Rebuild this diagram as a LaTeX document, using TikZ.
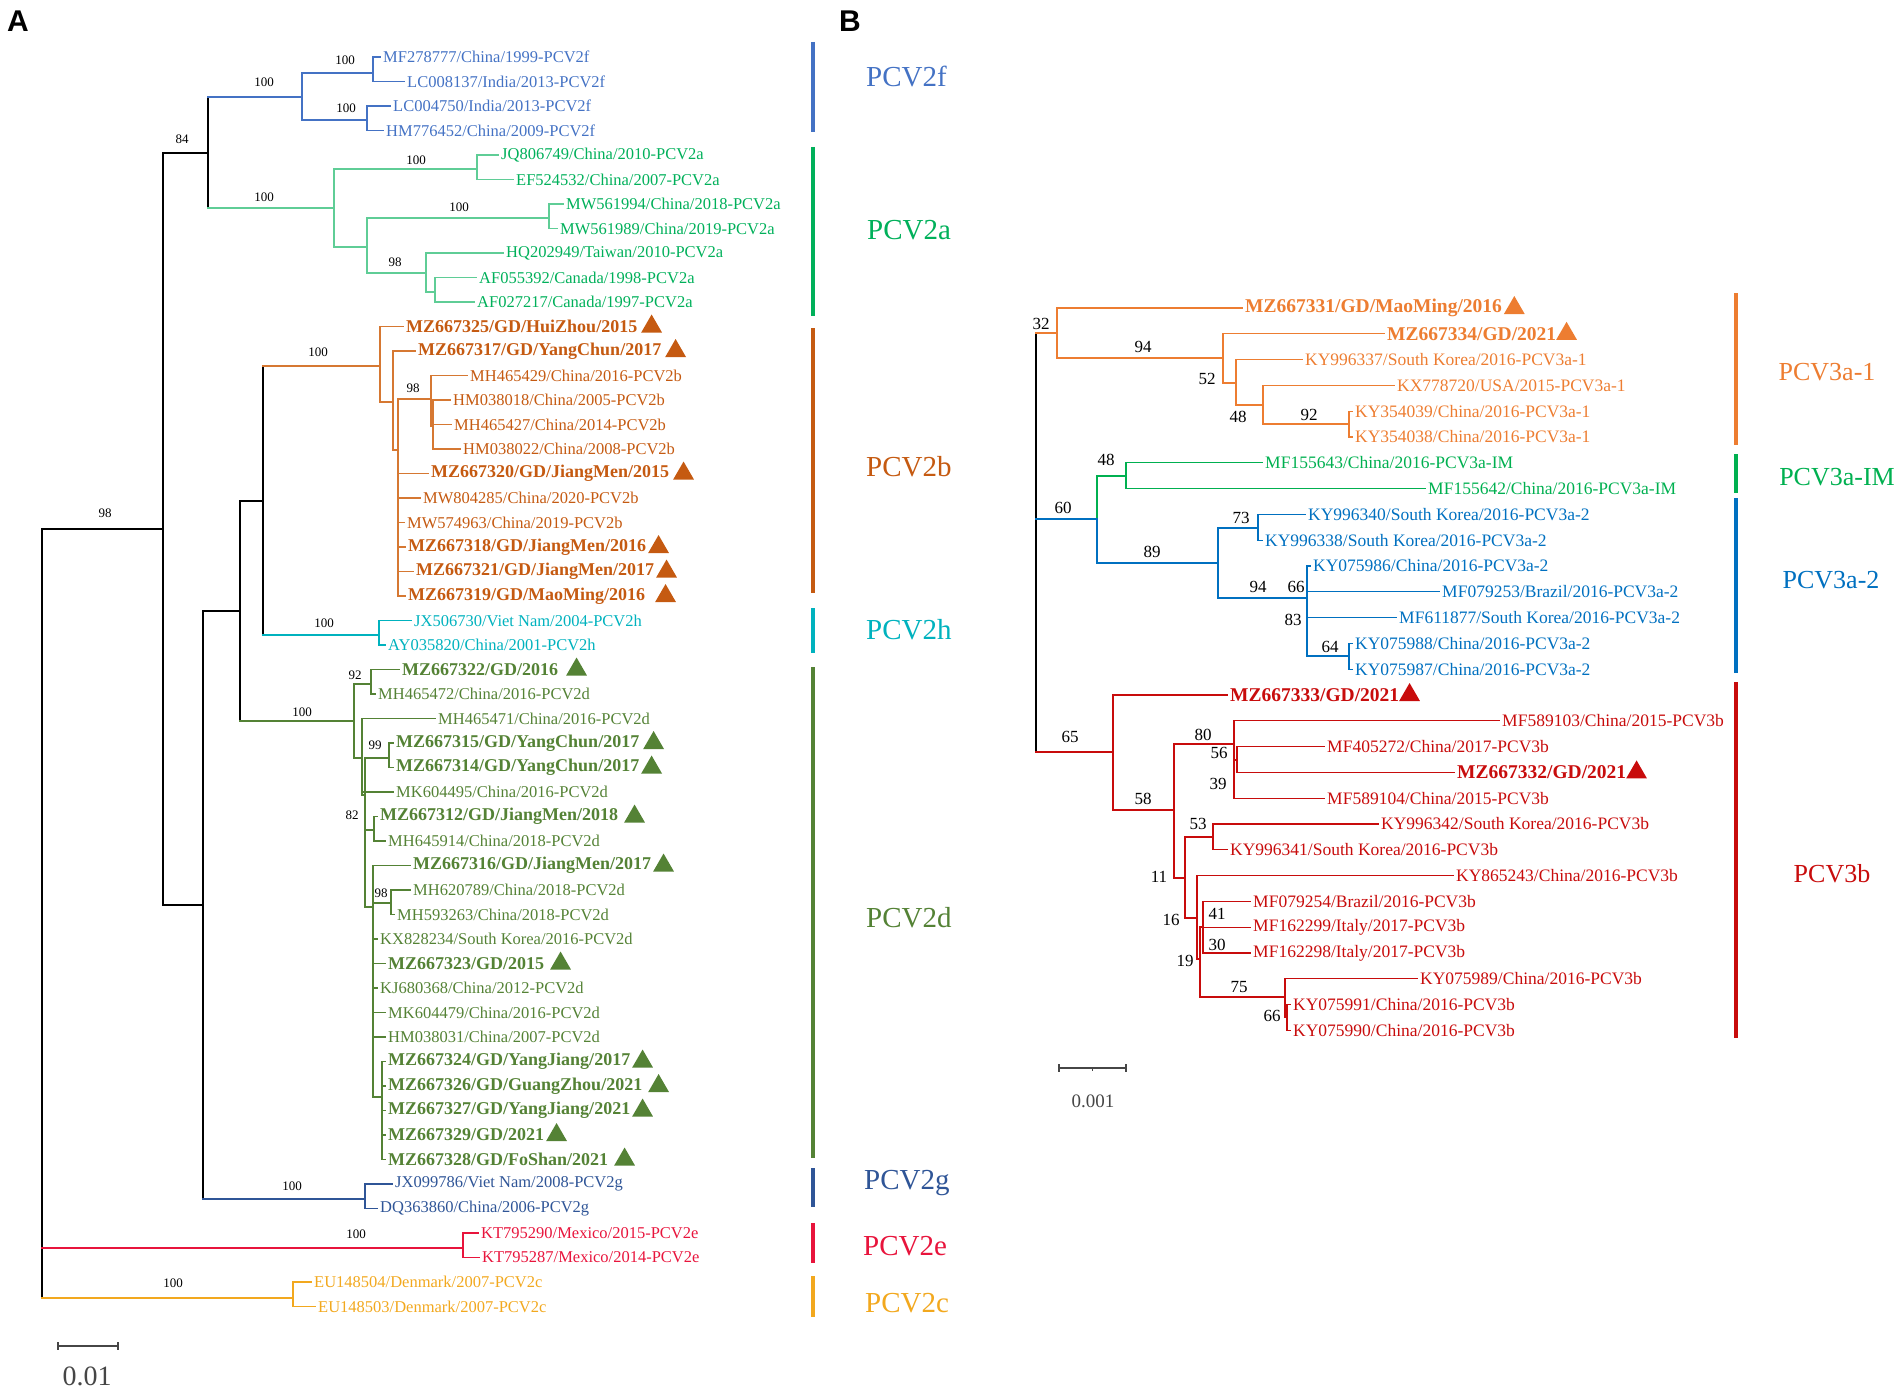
\documentclass[tikz,border=0pt]{standalone}
\usepackage{fontspec}
\setmainfont{Liberation Serif}
\newfontfamily\panelsans{Liberation Sans}
\usetikzlibrary{positioning,shapes.geometric}
\definecolor{cf}{RGB}{68,114,196}
\definecolor{ca}{RGB}{0,176,90}
\definecolor{caL}{RGB}{95,205,150}
\definecolor{cb}{RGB}{197,90,17}
\definecolor{cbL}{RGB}{214,120,50}
\definecolor{ch}{RGB}{0,178,190}
\definecolor{cd}{RGB}{84,130,53}
\definecolor{cg}{RGB}{47,85,151}
\definecolor{ce}{RGB}{232,20,60}
\definecolor{cc}{RGB}{242,168,30}
\definecolor{vOne}{RGB}{237,125,49}
\definecolor{vIm}{RGB}{0,176,80}
\definecolor{vTwo}{RGB}{0,112,192}
\definecolor{vB}{RGB}{200,12,12}
\definecolor{scalegray}{RGB}{70,70,70}
\begin{document}
\begin{tikzpicture}[x=1pt, y=-1pt,
                    br/.style={line width=1.3pt, line cap=rect},
                    leaf/.style={anchor=west, inner xsep=3pt, inner ysep=0pt, font=\fontsize{16.5}{18}\selectfont},
                    bold leaf/.style={leaf, font=\fontsize{18}{20}\selectfont\bfseries},
                    leafb/.style={leaf, font=\fontsize{17.5}{19}\selectfont},
                    bold leafb/.style={leaf, font=\fontsize{19.5}{21}\selectfont\bfseries},
                    boot/.style={inner sep=0pt, font=\fontsize{13}{14}\selectfont},
                    bootb/.style={inner sep=0pt, font=\fontsize{17}{18}\selectfont},
                    tri/.style={regular polygon, regular polygon sides=3, fill, inner sep=0pt, minimum size=24pt},
                    bar/.style={line width=4.5pt},
                    grp/.style={anchor=west, inner sep=0pt, font=\fontsize{29}{31}\selectfont},
                    grpb/.style={inner sep=0pt, font=\fontsize{26}{28}\selectfont},
                    panel/.style={inner sep=0pt, font=\panelsans\bfseries\fontsize{30}{32}\selectfont},
                    scalebar/.style={line width=2.5pt, draw=scalegray},
                ]
\useasboundingbox (0,0) rectangle (1902,1391);

\node[panel] (pA) at (18,21) {A};
\node[panel] (pB) at (850,21) {B};

% ---- panel A: PCV2 tree
\node[leaf, cf] (la0) at (380,57) {MF278777/China/1999-PCV2f};
\node[leaf, cf] (la1) at (404,81.5) {LC008137/India/2013-PCV2f};
\node[leaf, cf] (la2) at (390,106) {LC004750/India/2013-PCV2f};
\node[leaf, cf] (la3) at (383,130.5) {HM776452/China/2009-PCV2f};
\node[leaf, ca] (la4) at (498,155) {JQ806749/China/2010-PCV2a};
\node[leaf, ca] (la5) at (513,179.5) {EF524532/China/2007-PCV2a};
\node[leaf, ca] (la6) at (563,204) {MW561994/China/2018-PCV2a};
\node[leaf, ca] (la7) at (557,228.5) {MW561989/China/2019-PCV2a};
\node[leaf, ca] (la8) at (503,253) {HQ202949/Taiwan/2010-PCV2a};
\node[leaf, ca] (la9) at (476,277.5) {AF055392/Canada/1998-PCV2a};
\node[leaf, ca] (la10) at (474,302) {AF027217/Canada/1997-PCV2a};
\node[bold leaf, cb] (la11) at (403,326.5) {MZ667325/GD/HuiZhou/2015};
\node[bold leaf, cb] (la12) at (415,351) {MZ667317/GD/YangChun/2017};
\node[leaf, cb] (la13) at (467,375.5) {MH465429/China/2016-PCV2b};
\node[leaf, cb] (la14) at (450,400) {HM038018/China/2005-PCV2b};
\node[leaf, cb] (la15) at (451,424.5) {MH465427/China/2014-PCV2b};
\node[leaf, cb] (la16) at (460,449) {HM038022/China/2008-PCV2b};
\node[bold leaf, cb] (la17) at (428,473.5) {MZ667320/GD/JiangMen/2015};
\node[leaf, cb] (la18) at (420,498) {MW804285/China/2020-PCV2b};
\node[leaf, cb] (la19) at (404,522.5) {MW574963/China/2019-PCV2b};
\node[bold leaf, cb] (la20) at (405,547) {MZ667318/GD/JiangMen/2016};
\node[bold leaf, cb] (la21) at (413,571.5) {MZ667321/GD/JiangMen/2017};
\node[bold leaf, cb] (la22) at (405,596) {MZ667319/GD/MaoMing/2016};
\node[leaf, ch] (la23) at (411,620.5) {JX506730/Viet Nam/2004-PCV2h};
\node[leaf, ch] (la24) at (385,645) {AY035820/China/2001-PCV2h};
\node[bold leaf, cd] (la25) at (399,669.5) {MZ667322/GD/2016};
\node[leaf, cd] (la26) at (375,694) {MH465472/China/2016-PCV2d};
\node[leaf, cd] (la27) at (435,718.5) {MH465471/China/2016-PCV2d};
\node[bold leaf, cd] (la28) at (393,743) {MZ667315/GD/YangChun/2017};
\node[bold leaf, cd] (la29) at (393,767.5) {MZ667314/GD/YangChun/2017};
\node[leaf, cd] (la30) at (393,792) {MK604495/China/2016-PCV2d};
\node[bold leaf, cd] (la31) at (377,816.5) {MZ667312/GD/JiangMen/2018};
\node[leaf, cd] (la32) at (385,841) {MH645914/China/2018-PCV2d};
\node[bold leaf, cd] (la33) at (410,865.5) {MZ667316/GD/JiangMen/2017};
\node[leaf, cd] (la34) at (410,890) {MH620789/China/2018-PCV2d};
\node[leaf, cd] (la35) at (394,914.5) {MH593263/China/2018-PCV2d};
\node[leaf, cd] (la36) at (377,939) {KX828234/South Korea/2016-PCV2d};
\node[bold leaf, cd] (la37) at (385,963.5) {MZ667323/GD/2015};
\node[leaf, cd] (la38) at (377,988) {KJ680368/China/2012-PCV2d};
\node[leaf, cd] (la39) at (385,1012.5) {MK604479/China/2016-PCV2d};
\node[leaf, cd] (la40) at (385,1037) {HM038031/China/2007-PCV2d};
\node[bold leaf, cd] (la41) at (385,1061.5) {MZ667324/GD/YangJiang/2017};
\node[bold leaf, cd] (la42) at (385,1086) {MZ667326/GD/GuangZhou/2021};
\node[bold leaf, cd] (la43) at (385,1110.5) {MZ667327/GD/YangJiang/2021};
\node[bold leaf, cd] (la44) at (385,1135) {MZ667329/GD/2021};
\node[bold leaf, cd] (la45) at (385,1159.5) {MZ667328/GD/FoShan/2021};
\node[leaf, cg] (la46) at (392,1184) {JX099786/Viet Nam/2008-PCV2g};
\node[leaf, cg] (la47) at (377,1208.5) {DQ363860/China/2006-PCV2g};
\node[leaf, ce] (la48) at (478,1233) {KT795290/Mexico/2015-PCV2e};
\node[leaf, ce] (la49) at (479,1257.5) {KT795287/Mexico/2014-PCV2e};
\node[leaf, cc] (la50) at (311,1282) {EU148504/Denmark/2007-PCV2c};
\node[leaf, cc] (la51) at (315,1306.5) {EU148503/Denmark/2007-PCV2c};

\node[tri, cb, right=4pt of la11] (ta11) {};
\node[tri, cb, right=4pt of la12] (ta12) {};
\node[tri, cb, right=4pt of la17] (ta17) {};
\node[tri, cb, right=2pt of la20] (ta20) {};
\node[tri, cb, right=2pt of la21] (ta21) {};
\node[tri, cb, right=10pt of la22] (ta22) {};
\node[tri, cd, right=8pt of la25] (ta25) {};
\node[tri, cd, right=4pt of la28] (ta28) {};
\node[tri, cd, right=2pt of la29] (ta29) {};
\node[tri, cd, right=6pt of la31] (ta31) {};
\node[tri, cd, right=2pt of la33] (ta33) {};
\node[tri, cd, right=6pt of la37] (ta37) {};
\node[tri, cd, right=2pt of la41] (ta41) {};
\node[tri, cd, right=6pt of la42] (ta42) {};
\node[tri, cd, right=2pt of la43] (ta43) {};
\node[tri, cd, right=2pt of la44] (ta44) {};
\node[tri, cd, right=6pt of la45] (ta45) {};

\coordinate (rA) at (42,529);
\coordinate (nfab) at (163,529);
\coordinate (nfa) at (208,153);
\coordinate (nbhdg) at (203,905);
\coordinate (nbhd) at (240,611);
\coordinate (nbh) at (263,501);
\coordinate (nf) at (302,97);
\coordinate (nf1) at (373,73);
\coordinate (nf2) at (367,120);
\coordinate (na) at (334,208);
\coordinate (na1) at (477,169);
\coordinate (na3) at (367,247);
\coordinate (na2) at (549,218);
\coordinate (na4) at (426,273);
\coordinate (na5) at (435,292);
\coordinate (nb0) at (380,366);
\coordinate (nb1) at (393,402);
\coordinate (nb2) at (398,450);
\coordinate (nb98) at (431,399);
\coordinate (nb3) at (433,426);
\coordinate (nh) at (379,635);
\coordinate (nd) at (354,721);
\coordinate (nd92) at (371,684);
\coordinate (ndb) at (362,758);
\coordinate (ndc) at (365,795);
\coordinate (nd99) at (389,758);
\coordinate (nd82) at (374,830);
\coordinate (nde) at (373,907);
\coordinate (nd98) at (391,903);
\coordinate (ndf) at (382,1097);
\coordinate (ng) at (365,1199);
\coordinate (ne) at (463,1248);
\coordinate (nc) at (293,1298);

% backbone
\draw[br] (rA) -- (rA |- nc);
\draw[br] (rA) -- (nfab);
\draw[br, ce] (rA |- ne) -- (ne);
\draw[br, cc] (rA |- nc) -- (nc);
\draw[br] (nfab) |- (nfa) (nfab) |- (nbhdg);
\draw[br] (nfa |- nf) -- (nfa |- na);
\draw[br, cf] (nfa |- nf) -- (nf);
\draw[br, caL] (nfa |- na) -- (na);
\draw[br] (nbhdg) |- (nbhd);
\draw[br] (nbhdg) -- (nbhdg |- ng);
\draw[br, cg] (nbhdg |- ng) -- (ng);
\draw[br] (nbhd) |- (nbh);
\draw[br] (nbhd) -- (nbhd |- nd);
\draw[br, cd] (nbhd |- nd) -- (nd);
\draw[br] (nbh |- nb0) -- (nbh |- nh);
\draw[br, cbL] (nbh |- nb0) -- (nb0);
\draw[br, ch] (nbh |- nh) -- (nh);

% clades
\draw[br, cf] (nf) |- (nf1) (nf) |- (nf2)
    (nf1) |- (la0) (nf1) |- (la1) (nf2) |- (la2) (nf2) |- (la3);
\draw[br, caL] (na) |- (na1) (na) |- (na3) (na1) |- (la4) (na1) |- (la5)
    (na3) |- (na2) (na3) |- (na4) (na2) |- (la6) (na2) |- (la7)
    (na4) |- (la8) (na4) |- (na5) (na5) |- (la9) (na5) |- (la10);
\draw[br, cbL] (nb0) |- (la11) (nb0) |- (nb1) (nb1) |- (la12) (nb1) |- (nb2)
    (nb2) |- (nb98) (nb98) |- (la13) (nb98) |- (nb3)
    (nb3) |- (la14) (nb3) |- (la15) (nb3) |- (la16)
    (nb2) |- (la17) (nb2) |- (la18) (nb2) |- (la19)
    (nb2) |- (la20) (nb2) |- (la21) (nb2) |- (la22);
\draw[br, ch] (nh) |- (la23) (nh) |- (la24);
\draw[br, cd] (nd) |- (nd92) (nd) |- (ndb) (nd92) |- (la25) (nd92) |- (la26)
    (ndb) |- (la27) (ndb) |- (ndc) (ndb) |- (la30)
    (ndc) |- (nd99) (ndc) |- (nd82) (ndc) |- (nde)
    (nd99) |- (la28) (nd99) |- (la29) (nd82) |- (la31) (nd82) |- (la32)
    (nde) |- (la33) (nde) |- (nd98) (nd98) |- (la34) (nd98) |- (la35)
    (nde) |- (la36) (nde) |- (la37) (nde) |- (la38) (nde) |- (la39)
    (nde) |- (la40) (nde) |- (ndf)
    (ndf) |- (la41) (ndf) |- (la42) (ndf) |- (la43) (ndf) |- (la44) (ndf) |- (la45);
\draw[br, cg] (ng) |- (la46) (ng) |- (la47);
\draw[br, ce] (ne) |- (la48) (ne) |- (la49);
\draw[br, cc] (nc) |- (la50) (nc) |- (la51);

% bootstrap values
\node[boot] (sa1) at (345,60) {100};
\node[boot] (sa2) at (346,108) {100};
\node[boot] (sa3) at (264,82) {100};
\node[boot] (sa4) at (182,139) {84};
\node[boot] (sa5) at (416,160) {100};
\node[boot] (sa6) at (459,207) {100};
\node[boot] (sa7) at (395,262) {98};
\node[boot] (sa8) at (264,197) {100};
\node[boot] (sa9) at (318,352) {100};
\node[boot] (sa10) at (413,388) {98};
\node[boot] (sa11) at (105,513) {98};
\node[boot] (sa12) at (324,623) {100};
\node[boot] (sa13) at (302,712) {100};
\node[boot] (sa14) at (355,675) {92};
\node[boot] (sa15) at (375,745) {99};
\node[boot] (sa16) at (352,815) {82};
\node[boot] (sa17) at (381,893) {98};
\node[boot] (sa18) at (292,1186) {100};
\node[boot] (sa19) at (356,1234) {100};
\node[boot] (sa20) at (173,1283) {100};

% genotype bars
\draw[bar, cf] (813,42) -- (813,132);
\draw[bar, ca] (813,147) -- (813,316);
\draw[bar, cb] (813,328) -- (813,593);
\draw[bar, ch] (813,608) -- (813,653);
\draw[bar, cd] (813,667) -- (813,1158);
\draw[bar, cg] (813,1168) -- (813,1207);
\draw[bar, ce] (813,1223) -- (813,1263);
\draw[bar, cc] (813,1276) -- (813,1317);
\node[grp, cf] (gf) at (866,77) {PCV2f};
\node[grp, ca] (ga) at (867,230) {PCV2a};
\node[grp, cb] (gb) at (866,467) {PCV2b};
\node[grp, ch] (gh) at (866,630) {PCV2h};
\node[grp, cd] (gd) at (866,918) {PCV2d};
\node[grp, cg] (gg) at (864,1183) {PCV2g};
\node[grp, ce] (ge) at (863,1246) {PCV2e};
\node[grp, cc] (gc) at (865,1303) {PCV2c};

% scale A
\coordinate (sca0) at (58,1346);
\coordinate (sca1) at (118,1346);
\draw[scalebar] (sca0) -- (sca1) (sca0) ++(0,-4) -- ++(0,8) (sca1) ++(0,-4) -- ++(0,8);
\node[inner sep=0pt, font=\fontsize{28}{30}\selectfont, text=scalegray] (sclA) at (87,1376) {0.01};

% ---- panel B: PCV3 tree
\node[bold leafb, vOne] (lb0) at (1242,308) {MZ667331/GD/MaoMing/2016};
\node[bold leafb, vOne] (lb1) at (1384,333.8) {MZ667334/GD/2021};
\node[leafb, vOne] (lb2) at (1302,359.6) {KY996337/South Korea/2016-PCV3a-1};
\node[leafb, vOne] (lb3) at (1394,385.4) {KX778720/USA/2015-PCV3a-1};
\node[leafb, vOne] (lb4) at (1352,411.2) {KY354039/China/2016-PCV3a-1};
\node[leafb, vOne] (lb5) at (1352,437) {KY354038/China/2016-PCV3a-1};
\node[leafb, vIm] (lb6) at (1262,462.8) {MF155643/China/2016-PCV3a-IM};
\node[leafb, vIm] (lb7) at (1425,488.6) {MF155642/China/2016-PCV3a-IM};
\node[leafb, vTwo] (lb8) at (1305,514.4) {KY996340/South Korea/2016-PCV3a-2};
\node[leafb, vTwo] (lb9) at (1262,540.2) {KY996338/South Korea/2016-PCV3a-2};
\node[leafb, vTwo] (lb10) at (1310,566) {KY075986/China/2016-PCV3a-2};
\node[leafb, vTwo] (lb11) at (1439,591.8) {MF079253/Brazil/2016-PCV3a-2};
\node[leafb, vTwo] (lb12) at (1396,617.6) {MF611877/South Korea/2016-PCV3a-2};
\node[leafb, vTwo] (lb13) at (1352,643.4) {KY075988/China/2016-PCV3a-2};
\node[leafb, vTwo] (lb14) at (1352,669.2) {KY075987/China/2016-PCV3a-2};
\node[bold leafb, vB] (lb15) at (1227,695) {MZ667333/GD/2021};
\node[leafb, vB] (lb16) at (1499,720.8) {MF589103/China/2015-PCV3b};
\node[leafb, vB] (lb17) at (1324,746.6) {MF405272/China/2017-PCV3b};
\node[bold leafb, vB] (lb18) at (1454,772.4) {MZ667332/GD/2021};
\node[leafb, vB] (lb19) at (1324,798.2) {MF589104/China/2015-PCV3b};
\node[leafb, vB] (lb20) at (1378,824) {KY996342/South Korea/2016-PCV3b};
\node[leafb, vB] (lb21) at (1227,849.8) {KY996341/South Korea/2016-PCV3b};
\node[leafb, vB] (lb22) at (1453,875.6) {KY865243/China/2016-PCV3b};
\node[leafb, vB] (lb23) at (1250,901.4) {MF079254/Brazil/2016-PCV3b};
\node[leafb, vB] (lb24) at (1250,927.2) {MF162299/Italy/2017-PCV3b};
\node[leafb, vB] (lb25) at (1250,953) {MF162298/Italy/2017-PCV3b};
\node[leafb, vB] (lb26) at (1417,978.8) {KY075989/China/2016-PCV3b};
\node[leafb, vB] (lb27) at (1290,1004.6) {KY075991/China/2016-PCV3b};
\node[leafb, vB] (lb28) at (1290,1030.4) {KY075990/China/2016-PCV3b};

\node[tri, vOne, right=2pt of lb0] (tb0) {};
\node[tri, vOne, right=0pt of lb1] (tb1) {};
\node[tri, vB, right=0pt of lb15] (tb15) {};
\node[tri, vB, right=0pt of lb18] (tb18) {};

\coordinate (rB) at (1036,333);
\coordinate (m32) at (1057,333);
\coordinate (m94) at (1223,358);
\coordinate (m52) at (1236,383);
\coordinate (m48) at (1263,405);
\coordinate (m92) at (1349,424);
\coordinate (m60) at (1097,519);
\coordinate (mim) at (1126,476);
\coordinate (m89) at (1218,563);
\coordinate (m73) at (1258,528);
\coordinate (m94b) at (1307,598);
\coordinate (m64) at (1349,656);
\coordinate (m65) at (1113,752);
\coordinate (m58) at (1174,810);
\coordinate (m80) at (1234,744);
\coordinate (m56) at (1237,760);
\coordinate (m11) at (1185,878);
\coordinate (m53) at (1213,837);
\coordinate (m16) at (1197,918);
\coordinate (m19) at (1200,959);
\coordinate (m41) at (1203,927);
\coordinate (m75) at (1285,997);
\coordinate (m66) at (1287,1017);

\draw[br] (rB) -- (rB |- m65);
\draw[br, vOne] (rB) -- (m32);
\draw[br, vTwo] (rB |- m60) -- (m60);
\draw[br, vB] (rB |- m65) -- (m65);
\draw[br, vOne] (m32) |- (lb0) (m32) |- (m94) (m94) |- (lb1) (m94) |- (m52)
    (m52) |- (lb2) (m52) |- (m48) (m48) |- (lb3) (m48) |- (m92)
    (m92) |- (lb4) (m92) |- (lb5);
\draw[br, vIm] (m60) |- (mim) (mim) |- (lb6) (mim) |- (lb7);
\draw[br, vTwo] (m60) |- (m89) (m89) |- (m73) (m89) |- (m94b)
    (m73) |- (lb8) (m73) |- (lb9)
    (m94b) |- (lb10) (m94b) |- (lb11) (m94b) |- (lb12) (m94b) |- (m64)
    (m64) |- (lb13) (m64) |- (lb14);
\draw[br, vB] (m65) |- (lb15) (m65) |- (m58) (m58) |- (m80) (m58) |- (m11)
    (m80) |- (lb16) (m80) |- (m56) (m80) |- (lb19) (m56) |- (lb17) (m56) |- (lb18)
    (m11) |- (m53) (m11) |- (m16) (m53) |- (lb20) (m53) |- (lb21)
    (m16) |- (lb22) (m16) |- (m19) (m19) |- (m41) (m19) |- (m75)
    (m41) |- (lb23) (m41) |- (lb24) (m41) |- (lb25)
    (m75) |- (lb26) (m75) |- (m66) (m66) |- (lb27) (m66) |- (lb28);

\node[bootb] (sb1) at (1041,324) {32};
\node[bootb] (sb2) at (1143,347) {94};
\node[bootb] (sb3) at (1207,379) {52};
\node[bootb] (sb4) at (1238,417) {48};
\node[bootb] (sb5) at (1309,415) {92};
\node[bootb] (sb6) at (1106,460) {48};
\node[bootb] (sb7) at (1063,508) {60};
\node[bootb] (sb8) at (1241,518) {73};
\node[bootb] (sb9) at (1152,552) {89};
\node[bootb] (sb10) at (1258,587) {94};
\node[bootb] (sb11) at (1296,587) {66};
\node[bootb] (sb12) at (1293,620) {83};
\node[bootb] (sb13) at (1330,647) {64};
\node[bootb] (sb14) at (1070,737) {65};
\node[bootb] (sb15) at (1203,735) {80};
\node[bootb] (sb16) at (1219,753) {56};
\node[bootb] (sb17) at (1218,784) {39};
\node[bootb] (sb18) at (1143,799) {58};
\node[bootb] (sb19) at (1198,824) {53};
\node[bootb] (sb20) at (1159,877) {11};
\node[bootb] (sb21) at (1171,920) {16};
\node[bootb] (sb22) at (1217,914) {41};
\node[bootb] (sb23) at (1217,945) {30};
\node[bootb] (sb24) at (1185,961) {19};
\node[bootb] (sb25) at (1239,987) {75};
\node[bootb] (sb26) at (1272,1016) {66};

\draw[bar, vOne] (1736,293) -- (1736,445);
\draw[bar, vIm] (1736,454) -- (1736,493);
\draw[bar, vTwo] (1736,498) -- (1736,673);
\draw[bar, vB] (1736,682) -- (1736,1038);
\node[grpb, vOne] (gone) at (1827,372) {PCV3a-1};
\node[grpb, vIm] (gim) at (1837,477) {PCV3a-IM};
\node[grpb, vTwo] (gtwo) at (1831,580) {PCV3a-2};
\node[grpb, vB] (gthb) at (1832,874) {PCV3b};

% scale B
\coordinate (scb0) at (1059,1068);
\coordinate (scb1) at (1126,1068);
\coordinate (scbm) at (1092.5,1068);
\draw[scalebar, line width=1.5pt] (scb0) -- (scb1) (scb0) ++(0,-4) -- ++(0,8) (scb1) ++(0,-4) -- ++(0,8)
    (scbm) -- ++(0,3);
\node[inner sep=0pt, font=\fontsize{19}{21}\selectfont, text=scalegray] (sclB) at (1093,1101) {0.001};
\end{tikzpicture}
\end{document}
